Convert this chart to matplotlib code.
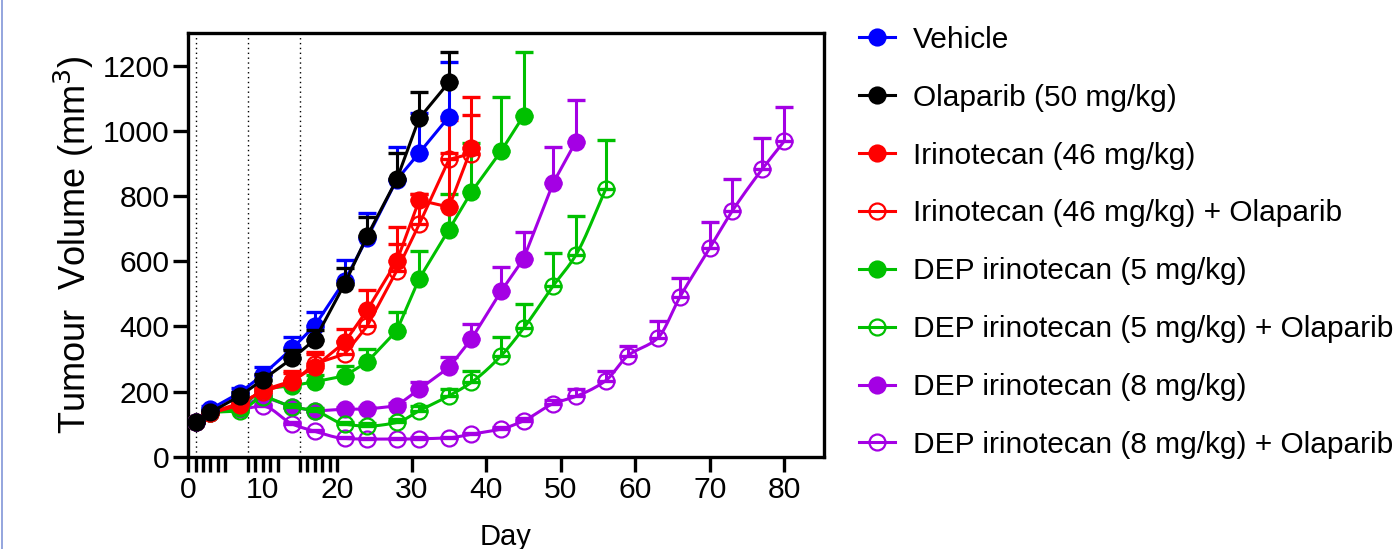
import numpy as np
import matplotlib
matplotlib.use("Agg")
import matplotlib.pyplot as plt
from matplotlib.lines import Line2D

plt.rcParams['font.family'] = ['Liberation Sans', 'DejaVu Sans']

# ---- data (mean and upper SEM) ----
days_a = [1, 3, 7, 10, 14, 17, 21, 24, 28, 31, 35]
days_b = [1, 3, 7, 10, 14, 17, 21, 24, 28, 31, 35, 38]
days_c = [1, 3, 7, 10, 14, 17, 21, 24, 28, 31, 35, 38, 42, 45]
days_d = [1, 3, 7, 10, 14, 17, 21, 24, 28, 31, 35, 38, 42, 45, 49, 52]
days_e = [1, 3, 7, 10, 14, 17, 21, 24, 28, 31, 35, 38, 42, 45, 49, 52, 56]
days_f = [1, 3, 7, 10, 14, 17, 21, 24, 28, 31, 35, 38, 42, 45, 49, 52, 56,
          59, 63, 66, 70, 73, 77, 80]

vehicle = [105, 146, 197, 251, 333, 402, 540, 670, 850, 932, 1043]
vehicle_err = [5, 9, 13, 23, 33, 41, 62, 78, 101, 123, 169]

olaparib = [105, 136, 187, 236, 302, 359, 530, 676, 851, 1038, 1149]
olaparib_err = [4, 8, 12, 18, 25, 30, 48, 60, 80, 82, 92]

irino = [105, 133, 159, 204, 233, 276, 351, 449, 600, 787, 766, 946]
irino_err = [3, 6, 10, 15, 31, 39, 41, 61, 105, 20, 267, 157]

irino_ola = [105, 135, 165, 200, 228, 285, 315, 400, 571, 713, 912, 930]
irino_ola_err = [3, 6, 10, 15, 30, 35, 40, 50, 83, 94, 20, 118]

dep5 = [105, 135, 150, 208, 218, 230, 248, 290, 387, 546, 697, 812, 938, 1046]
dep5_err = [3, 5, 8, 12, 15, 20, 31, 40, 56, 84, 108, 150, 165, 197]

dep5_ola = [105, 135, 141, 182, 153, 141, 100, 94, 105, 141, 187, 228, 310,
            394, 525, 618, 820]
dep5_ola_err = [3, 5, 8, 10, 10, 8, 8, 8, 10, 15, 22, 36, 58, 75, 100, 121, 153]

dep8 = [105, 135, 150, 185, 153, 140, 146, 146, 156, 207, 274, 361, 508, 607,
        841, 966]
dep8_err = [3, 5, 6, 8, 8, 6, 5, 6, 8, 21, 31, 46, 75, 82, 108, 128]

dep8_ola = [105, 135, 145, 155, 100, 78, 56, 54, 54, 55, 58, 69, 85, 110, 163,
            185, 233, 310, 364, 491, 641, 754, 882, 969]
dep8_ola_err = [3, 5, 6, 8, 6, 5, 4, 4, 4, 4, 4, 5, 6, 8, 10, 24, 29, 31, 51,
                57, 79, 97, 97, 103]

labels = ["Vehicle", "Olaparib (50 mg/kg)", "Irinotecan (46 mg/kg)",
          "Irinotecan (46 mg/kg) + Olaparib", "DEP irinotecan (5 mg/kg)",
          "DEP irinotecan (5 mg/kg) + Olaparib", "DEP irinotecan (8 mg/kg)",
          "DEP irinotecan (8 mg/kg) + Olaparib"]
dose_lines = [1, 8, 15]
dose_days = [1, 2, 3, 4, 5, 8, 9, 10, 11, 12, 15, 16, 17, 18, 19]

BLUE, BLACK, RED, GREEN, PURPLE = "#0000ff", "#000000", "#ff0000", "#00c000", "#a400e4"


def pchip(x, y, n=24):
    # monotone cubic curve through the points (smooth line like Prism)
    x = np.asarray(x, float)
    y = np.asarray(y, float)
    h = np.diff(x)
    d = np.diff(y) / h
    m = np.zeros_like(y)
    m[0], m[-1] = d[0], d[-1]
    for i in range(1, len(y) - 1):
        if d[i - 1] * d[i] <= 0:
            m[i] = 0
        else:
            w1 = 2 * h[i] + h[i - 1]
            w2 = h[i] + 2 * h[i - 1]
            m[i] = (w1 + w2) / (w1 / d[i - 1] + w2 / d[i])
    xs, ys = [], []
    t = np.linspace(0, 1, n, endpoint=False)
    for i in range(len(h)):
        h00 = 2 * t**3 - 3 * t**2 + 1
        h10 = t**3 - 2 * t**2 + t
        h01 = -2 * t**3 + 3 * t**2
        h11 = t**3 - t**2
        xs.append(x[i] + t * h[i])
        ys.append(h00 * y[i] + h10 * h[i] * m[i] + h01 * y[i + 1] + h11 * h[i] * m[i + 1])
    xs.append([x[-1]])
    ys.append([y[-1]])
    return np.concatenate(xs), np.concatenate(ys)


series = [
    # days, values, err, color, filled, smooth, zorder
    (days_a, vehicle, vehicle_err, BLUE, True, False, 9),
    (days_a, olaparib, olaparib_err, BLACK, True, False, 10),
    (days_b, irino, irino_err, RED, True, False, 8),
    (days_b, irino_ola, irino_ola_err, RED, False, False, 7),
    (days_c, dep5, dep5_err, GREEN, True, False, 6),
    (days_e, dep5_ola, dep5_ola_err, GREEN, False, True, 5),
    (days_d, dep8, dep8_err, PURPLE, True, False, 4),
    (days_f, dep8_ola, dep8_ola_err, PURPLE, False, True, 3),
]

fig = plt.figure(figsize=(13.94, 5.49), dpi=100)
ax = fig.add_axes([0.1349, 0.1681, 0.4562, 0.7718])

LW = 2.2
MS = 11.5
handles = []
for x, y, e, c, filled, smooth, z in series:
    ax.errorbar(x, y, yerr=[np.zeros(len(e)), e], fmt='none', ecolor=c,
                elinewidth=LW, capsize=6.5, capthick=LW + 0.2, zorder=z)
    if smooth:
        sx, sy = pchip(x, y)
    else:
        sx, sy = x, y
    ax.plot(sx, sy, color=c, lw=LW, zorder=z)
    fc = c if filled else 'none'
    ax.plot(x, y, 'o', ms=MS, mfc=fc, mec=c, mew=1.6, zorder=z + 0.5)
    handles.append(Line2D([], [], color=c, lw=LW, marker='o', ms=MS,
                          mfc=fc, mec=c, mew=1.6))

for d in dose_lines:
    ax.axvline(d, color='black', lw=1, ls=(0, (1, 2.5)), zorder=1)

ax.set_xlim(0, 85.3)
ax.set_ylim(0, 1300)
ax.set_xticks(range(0, 81, 10))
ax.set_xticks(dose_days, minor=True)
ax.set_yticks(range(0, 1201, 200))
for s in ax.spines.values():
    s.set_linewidth(2.4)
ax.tick_params(axis='both', which='both', direction='out', length=10.8,
               width=2.4, labelsize=21.7)
ax.tick_params(axis='x', which='major', pad=3)
ax.tick_params(axis='y', which='major', pad=2.5)
ax.set_xlabel("Day", fontsize=21, labelpad=14)
ax.set_ylabel("Tumour  Volume (mm$^3$)", fontsize=26, labelpad=5)

fig.legend(handles, labels, loc='upper left', bbox_to_anchor=(0.6162, 0.953),
           frameon=False, fontsize=21.5, handlelength=1.2, handletextpad=0.6,
           labelspacing=1.0, borderpad=0, borderaxespad=0)

fig.add_artist(Line2D([0.0013, 0.0013], [0, 1], transform=fig.transFigure,
                      color='#8296d8', lw=1.2))

fig.savefig("out.png", dpi=100)
